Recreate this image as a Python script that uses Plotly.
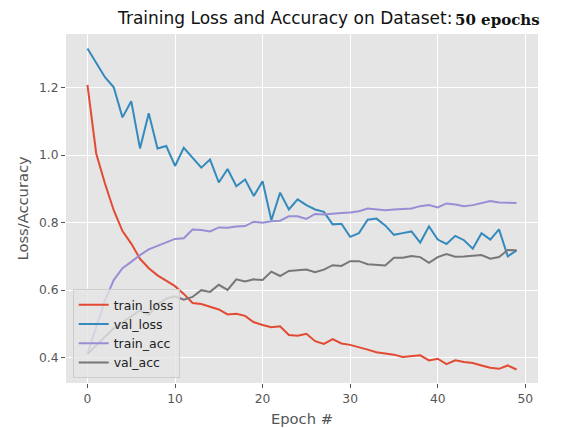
import plotly.graph_objects as go

epochs = list(range(50))

train_loss = [1.208, 1.005, 0.916, 0.837, 0.775, 0.738, 0.693, 0.665, 0.644, 0.627,
              0.612, 0.589, 0.562, 0.559, 0.552, 0.543, 0.528, 0.530, 0.524, 0.505,
              0.497, 0.490, 0.493, 0.467, 0.465, 0.471, 0.449, 0.441, 0.455, 0.442,
              0.438, 0.432, 0.424, 0.416, 0.412, 0.409, 0.402, 0.404, 0.407, 0.392,
              0.397, 0.381, 0.392, 0.387, 0.384, 0.377, 0.370, 0.367, 0.377, 0.365]

val_loss = [1.316, 1.274, 1.231, 1.201, 1.112, 1.160, 1.020, 1.124, 1.020, 1.027,
            0.968, 1.022, 0.993, 0.963, 0.987, 0.919, 0.959, 0.908, 0.928, 0.879,
            0.923, 0.807, 0.889, 0.839, 0.869, 0.852, 0.839, 0.832, 0.795, 0.797,
            0.758, 0.769, 0.809, 0.812, 0.792, 0.764, 0.769, 0.774, 0.741, 0.789,
            0.750, 0.737, 0.761, 0.748, 0.723, 0.769, 0.750, 0.780, 0.700, 0.718]

train_acc = [0.411, 0.490, 0.570, 0.630, 0.665, 0.684, 0.704, 0.721, 0.731, 0.742,
             0.752, 0.754, 0.780, 0.778, 0.774, 0.786, 0.785, 0.789, 0.790, 0.803,
             0.800, 0.804, 0.806, 0.819, 0.819, 0.811, 0.826, 0.824, 0.827, 0.829,
             0.830, 0.834, 0.842, 0.840, 0.837, 0.839, 0.841, 0.842, 0.849, 0.852,
             0.845, 0.857, 0.854, 0.849, 0.852, 0.858, 0.864, 0.860, 0.859, 0.858]

val_acc = [0.411, 0.438, 0.462, 0.487, 0.505, 0.524, 0.540, 0.527, 0.558, 0.575,
           0.582, 0.572, 0.580, 0.600, 0.595, 0.616, 0.601, 0.632, 0.626, 0.632,
           0.630, 0.655, 0.642, 0.657, 0.658, 0.661, 0.653, 0.661, 0.674, 0.672,
           0.686, 0.686, 0.677, 0.674, 0.673, 0.696, 0.696, 0.701, 0.698, 0.681,
           0.698, 0.707, 0.699, 0.700, 0.701, 0.704, 0.693, 0.698, 0.719, 0.718]

series = [("train_loss", train_loss, "#E24A33"),
          ("val_loss", val_loss, "#348ABD"),
          ("train_acc", train_acc, "#988ED5"),
          ("val_acc", val_acc, "#777777")]

x_ticks = [0, 10, 20, 30, 40, 50]
y_ticks = [0.4, 0.6, 0.8, 1.0, 1.2]

title_text = "Training Loss and Accuracy on Dataset:"
subtitle_text = "50 epochs"
x_label = "Epoch #"
y_label = "Loss/Accuracy"

fig = go.Figure()
for name, vals, color in series:
    fig.add_trace(go.Scatter(x=epochs, y=vals, mode="lines", name=name,
                             line=dict(color=color, width=2)))

W, H = 566, 428
ml, mr, mt, mb = 66, 28, 34, 45
pw, ph = W - ml - mr, H - mt - mb


def px(xp):
    return (xp - ml) / pw


def py(yp):
    return 1 - (yp - mt) / ph


fig.update_layout(
    width=W, height=H,
    margin=dict(l=ml, r=mr, t=mt, b=mb, pad=0, autoexpand=False),
    paper_bgcolor="white",
    plot_bgcolor="#E5E5E5",
    font=dict(family="DejaVu Sans", color="#555555", size=12.3),
    showlegend=True,
    legend=dict(x=px(72.7), y=py(378), xanchor="left", yanchor="bottom",
                bgcolor="rgba(229,229,229,0.8)", bordercolor="#CCCCCC", borderwidth=1,
                font=dict(size=12.5, color="#222222"), itemwidth=30,
                tracegroupgap=0),
    xaxis=dict(range=[-2.45, 51.45], tickvals=x_ticks, showgrid=True, gridcolor="white",
               gridwidth=1, zeroline=False, showline=False, ticks="outside", ticklen=4,
               tickcolor="#555555", tickfont=dict(size=12.3, color="#555555"),
               automargin=False),
    yaxis=dict(range=[0.325, 1.359], tickvals=y_ticks, tickformat=".1f", showgrid=True,
               gridcolor="white", gridwidth=1, zeroline=False, showline=False,
               ticks="outside", ticklen=4, tickcolor="#555555",
               tickfont=dict(size=12.3, color="#555555"), automargin=False),
)

fig.add_annotation(text=x_label, xref="paper", yref="paper",
                   x=0.5, y=py(418), xanchor="center", yanchor="middle", showarrow=False,
                   font=dict(family="DejaVu Sans", size=14.7, color="#555555"))
fig.add_annotation(text=y_label, xref="paper", yref="paper", textangle=-90,
                   x=px(22), y=0.5, xanchor="center", yanchor="middle", showarrow=False,
                   font=dict(family="DejaVu Sans", size=14.7, color="#555555"))

fig.add_annotation(text=title_text, xref="paper", yref="paper",
                   x=px(115), y=py(18), xanchor="left", yanchor="middle", showarrow=False,
                   font=dict(family="DejaVu Sans", size=17, color="#111111"))
fig.add_annotation(text="<b>" + subtitle_text + "</b>", xref="paper", yref="paper",
                   x=px(453), y=py(20), xanchor="left", yanchor="middle", showarrow=False,
                   font=dict(family="DejaVu Serif", size=15, color="#111111"))

fig.write_html("out.html", config={"displayModeBar": False},
               post_script="document.body.style.margin='0';document.body.style.overflow='hidden';")
